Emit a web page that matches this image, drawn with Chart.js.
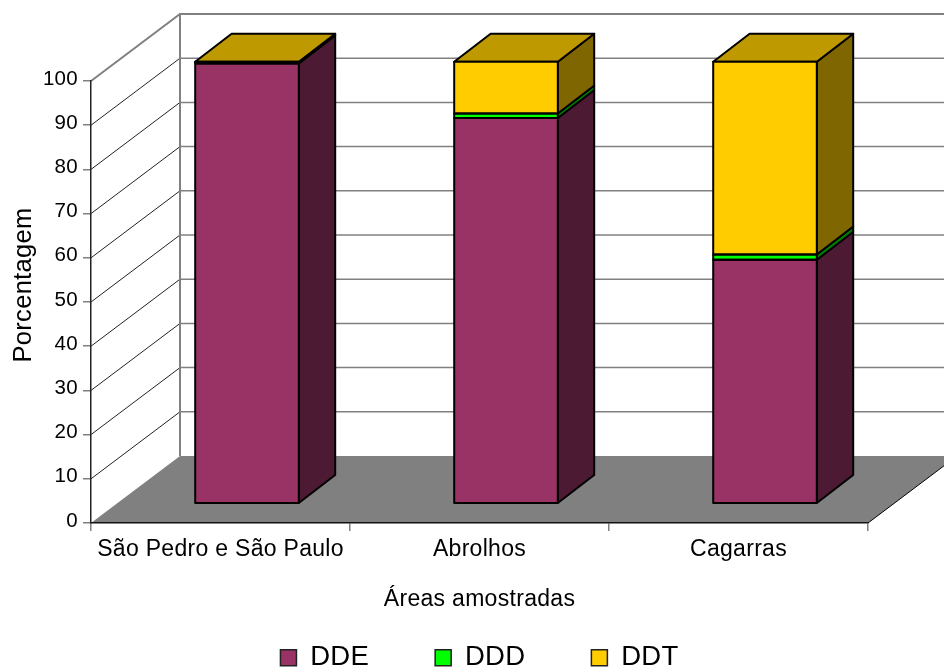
<!DOCTYPE html>
<html lang="pt">
<head>
<meta charset="utf-8">
<title>Porcentagem por área amostrada</title>
<script src="https://cdn.jsdelivr.net/npm/chart.js@4"></script>
<style>
  html, body { margin: 0; padding: 0; background: #fff; }
  canvas { display: block; }
</style>
</head>
<body>
<canvas id="grafico" width="944" height="668"></canvas>
<script>
const areas = ['São Pedro e São Paulo', 'Abrolhos', 'Cagarras'];
const valoresDDE = [99.6, 87.3, 55.2];
const valoresDDD = [0.2, 1.0, 1.2];
const valoresDDT = [0.2, 11.7, 43.6];
const marcasY = [0, 10, 20, 30, 40, 50, 60, 70, 80, 90, 100];

const FONTE = '"Liberation Sans", Arial, sans-serif';
const PRETO = '#000';
const CINZA = '#808080';

// deslocamentos da perspectiva: parede do fundo, frente das colunas e profundidade das colunas
const PAREDE = { dx: 89, dy: -67 };
const FRENTE = { dx: 26.5, dy: -19.2 };
const FUNDO = { dx: 36.4, dy: -28 };

const caixa3d = {
  id: 'caixa3d',
  beforeUpdate(chart) {
    chart.ctx.letterSpacing = '0.3px';
  },
  afterLayout(chart) {
    // legenda na última linha e título do eixo y um pouco acima do centro
    chart.legend.top = 578;
    chart.legend.left -= 1;
    chart.legend.right += 1;
    const y = chart.scales.y;
    const tituloOriginal = y.drawTitle;
    y.drawTitle = function () {
      chart.ctx.save();
      chart.ctx.translate(0, -17);
      tituloOriginal.call(y);
      chart.ctx.restore();
    };
  },
  beforeDraw(chart) {
    const { ctx, scales: { x, y } } = chart;
    const esq = x.left, dir = x.right, base = y.getPixelForValue(0), topo = y.getPixelForValue(100);

    ctx.save();
    // chão
    ctx.fillStyle = CINZA;
    ctx.beginPath();
    ctx.moveTo(esq, base);
    ctx.lineTo(dir, base);
    ctx.lineTo(dir + PAREDE.dx, base + PAREDE.dy);
    ctx.lineTo(esq + PAREDE.dx, base + PAREDE.dy);
    ctx.closePath();
    ctx.fill();

    ctx.strokeStyle = PRETO;
    ctx.lineWidth = 1;
    ctx.beginPath();
    ctx.moveTo(dir, base);
    ctx.lineTo(dir + PAREDE.dx, base + PAREDE.dy);
    ctx.stroke();

    // linhas de grade: diagonal na parede esquerda, horizontal na do fundo
    marcasY.slice(1, -1).forEach(v => {
      const py = y.getPixelForValue(v);
      ctx.strokeStyle = '#222';
      ctx.lineWidth = 1;
      ctx.beginPath();
      ctx.moveTo(esq, py);
      ctx.lineTo(esq + PAREDE.dx, py + PAREDE.dy);
      ctx.stroke();
      ctx.strokeStyle = CINZA;
      ctx.lineWidth = 1.5;
      ctx.beginPath();
      ctx.moveTo(esq + PAREDE.dx, py + PAREDE.dy);
      ctx.lineTo(chart.width, py + PAREDE.dy);
      ctx.stroke();
    });

    // contorno das paredes
    ctx.strokeStyle = CINZA;
    ctx.lineWidth = 2;
    ctx.beginPath();
    ctx.moveTo(esq, topo);
    ctx.lineTo(esq + PAREDE.dx, topo + PAREDE.dy);
    ctx.lineTo(chart.width, topo + PAREDE.dy);
    ctx.moveTo(esq + PAREDE.dx, topo + PAREDE.dy);
    ctx.lineTo(esq + PAREDE.dx, base + PAREDE.dy);
    ctx.stroke();
    ctx.restore();
  },
  beforeDatasetsDraw(chart) {
    const { ctx } = chart;
    // as colunas ficam recuadas no chão; o restore está em afterDatasetsDraw
    ctx.save();
    ctx.translate(FRENTE.dx, FRENTE.dy);
    ctx.lineWidth = 2;
    ctx.strokeStyle = PRETO;
    ctx.lineJoin = 'round';

    const total = chart.data.datasets.length;
    chart.data.datasets.forEach((ds, i) => {
      chart.getDatasetMeta(i).data.forEach(barra => {
        const xd = barra.x + barra.width / 2;
        const xe = barra.x - barra.width / 2;
        ctx.fillStyle = ds.corLado;
        ctx.beginPath();
        ctx.moveTo(xd, barra.base);
        ctx.lineTo(xd + FUNDO.dx, barra.base + FUNDO.dy);
        ctx.lineTo(xd + FUNDO.dx, barra.y + FUNDO.dy);
        ctx.lineTo(xd, barra.y);
        ctx.closePath();
        ctx.fill();
        ctx.stroke();
        if (i === total - 1) {
          ctx.fillStyle = ds.corTopo;
          ctx.beginPath();
          ctx.moveTo(xe, barra.y);
          ctx.lineTo(xe + FUNDO.dx, barra.y + FUNDO.dy);
          ctx.lineTo(xd + FUNDO.dx, barra.y + FUNDO.dy);
          ctx.lineTo(xd, barra.y);
          ctx.closePath();
          ctx.fill();
          ctx.stroke();
        }
      });
    });
  },
  afterDatasetsDraw(chart) {
    const { ctx } = chart;
    chart.data.datasets.forEach((ds, i) => {
      chart.getDatasetMeta(i).data.forEach(barra => {
        ctx.strokeRect(barra.x - barra.width / 2, barra.y, barra.width, barra.base - barra.y);
      });
    });
    ctx.restore();
  }
};

new Chart(document.getElementById('grafico'), {
  type: 'bar',
  data: {
    labels: areas,
    datasets: [
      { label: 'DDE', data: valoresDDE, backgroundColor: '#993366', corLado: '#4D1A33', corTopo: '#732650' },
      { label: 'DDD', data: valoresDDD, backgroundColor: '#00FF00', corLado: '#008000', corTopo: '#00BF00' },
      { label: 'DDT', data: valoresDDT, backgroundColor: '#FFCC00', corLado: '#806600', corTopo: '#BF9900' }
    ].map(ds => ({ ...ds, borderWidth: 0, clip: false, barPercentage: 1, categoryPercentage: 0.4 }))
  },
  options: {
    responsive: false,
    animation: false,
    layout: { padding: { left: 0, top: 81, right: 76, bottom: 0 } },
    plugins: {
      tooltip: { enabled: false },
      legend: {
        position: 'bottom',
        fullSize: false,
        maxHeight: 55,
        labels: {
          color: PRETO,
          boxWidth: 16,
          boxHeight: 16,
          padding: 66,
          font: { family: FONTE, size: 27.5 },
          generateLabels: chart => chart.data.datasets.map((ds, i) => ({
            text: ds.label,
            fillStyle: ds.backgroundColor,
            strokeStyle: '#222',
            lineWidth: 1.5,
            datasetIndex: i
          }))
        }
      }
    },
    scales: {
      x: {
        stacked: true,
        offset: true,
        afterFit: s => { s.height = 90; },
        border: { color: '#111', width: 1.5 },
        grid: { drawOnChartArea: false, drawTicks: true, tickLength: 8, color: CINZA, offset: true, lineWidth: 1.5 },
        ticks: { color: PRETO, maxRotation: 0, autoSkip: false, padding: 5, font: { family: FONTE, size: 23 } },
        title: { display: true, text: 'Áreas amostradas', color: PRETO, padding: { top: 12, bottom: 0 }, font: { family: FONTE, size: 23 } }
      },
      y: {
        stacked: true,
        min: 0,
        max: 100,
        afterFit: s => { s.width = 91; },
        afterBuildTicks: s => { s.ticks = marcasY.map(value => ({ value })); },
        border: { color: '#222', width: 1.5 },
        grid: { drawOnChartArea: false, drawTicks: true, tickLength: 8, color: CINZA, lineWidth: 1.5 },
        ticks: { color: PRETO, padding: 5, labelOffset: -2, font: { family: FONTE, size: 20.5 } },
        title: { display: true, text: 'Porcentagem', color: PRETO, padding: { top: 9, bottom: 0 }, font: { family: FONTE, size: 25.5 } }
      }
    }
  },
  plugins: [caixa3d]
});
</script>
</body>
</html>
